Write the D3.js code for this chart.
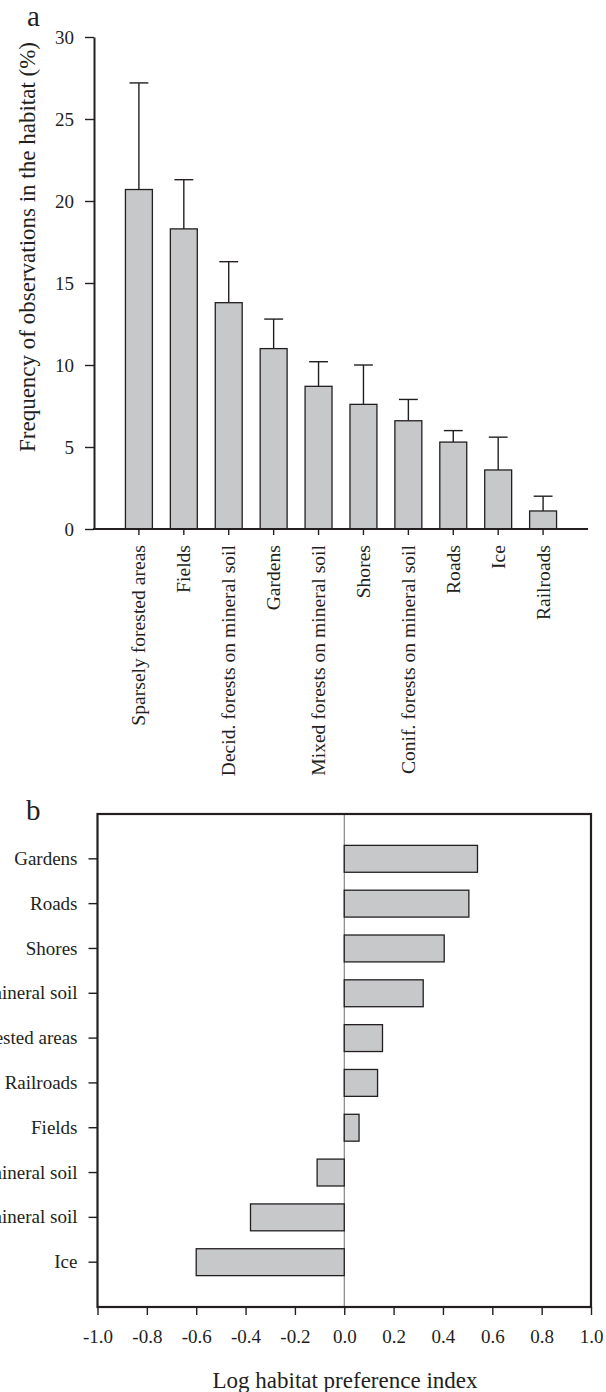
<!DOCTYPE html>
<html>
<head>
<meta charset="utf-8">
<script src="https://cdn.jsdelivr.net/npm/d3@7"></script>
<style>
body { margin: 0; background: #fff; overflow: hidden; }
text { font-family: "Liberation Serif", "Times New Roman", serif; fill: #231f20; }
</style>
</head>
<body>
<script>
// panel a: frequency of observations per habitat
const habitats = ["Sparsely forested areas", "Fields", "Decid. forests on mineral soil", "Gardens",
    "Mixed forests on mineral soil", "Shores", "Conif. forests on mineral soil", "Roads", "Ice", "Railroads"];
const frequency = [20.7, 18.3, 13.8, 11.0, 8.7, 7.6, 6.6, 5.3, 3.6, 1.1];
const frequencyUpper = [27.2, 21.3, 16.3, 12.8, 10.2, 10.0, 7.9, 6.0, 5.6, 2.0];
const yTicksA = [0, 5, 10, 15, 20, 25, 30];

// panel b: log habitat preference index
const prefHabitats = ["Gardens", "Roads", "Shores", "Decid. forests on mineral soil", "Sparsely forested areas",
    "Railroads", "Fields", "Mixed forests on mineral soil", "Conif. forests on mineral soil", "Ice"];
const prefIndex = [0.54, 0.505, 0.405, 0.32, 0.155, 0.135, 0.06, -0.11, -0.38, -0.60];
const xTicksB = [-1.0, -0.8, -0.6, -0.4, -0.2, 0.0, 0.2, 0.4, 0.6, 0.8, 1.0];

const ink = "#231f20";
const barFill = "#c7c8ca";

const svg = d3.select("body").append("svg")
    .attr("width", 606)
    .attr("height", 1392);

function styleAxis(g, size) {
    g.selectAll("path.domain").attr("stroke", ink).attr("stroke-width", 2);
    g.selectAll(".tick line").attr("stroke", ink).attr("stroke-width", 1.4);
    g.selectAll("text").style("font-size", size + "px").attr("fill", ink)
        .style("font-family", '"Liberation Serif", "Times New Roman", serif');
}

// ---------- panel a ----------
const xA = d3.scaleBand().domain(habitats).range([94, 588]).paddingInner(0.4).paddingOuter(0.7);
const yA = d3.scaleLinear().domain([0, 30]).range([529, 37]);

const gA = svg.append("g").attr("class", "panel-a");

gA.selectAll("rect.bar")
    .data(habitats)
    .enter().append("rect")
    .attr("class", "bar")
    .attr("x", d => xA(d))
    .attr("y", (d, i) => yA(frequency[i]))
    .attr("width", xA.bandwidth())
    .attr("height", (d, i) => yA(0) - yA(frequency[i]))
    .attr("fill", barFill)
    .attr("stroke", ink)
    .attr("stroke-width", 1.3);

// error bars (upper only)
const capW = xA.bandwidth() * 0.7;
const err = gA.selectAll("g.err").data(habitats).enter().append("g").attr("class", "err");
err.append("line")
    .attr("x1", d => xA(d) + xA.bandwidth() / 2)
    .attr("x2", d => xA(d) + xA.bandwidth() / 2)
    .attr("y1", (d, i) => yA(frequency[i]))
    .attr("y2", (d, i) => yA(frequencyUpper[i]))
    .attr("stroke", ink).attr("stroke-width", 1.4);
err.append("line")
    .attr("x1", d => xA(d) + xA.bandwidth() / 2 - capW / 2)
    .attr("x2", d => xA(d) + xA.bandwidth() / 2 + capW / 2)
    .attr("y1", (d, i) => yA(frequencyUpper[i]))
    .attr("y2", (d, i) => yA(frequencyUpper[i]))
    .attr("stroke", ink).attr("stroke-width", 1.4);

const yAxisA = gA.append("g")
    .attr("transform", "translate(94,0)")
    .call(d3.axisLeft(yA).tickValues(yTicksA).tickSize(9).tickSizeOuter(0).tickPadding(11));
styleAxis(yAxisA, 19);

const xAxisA = gA.append("g")
    .attr("transform", "translate(0,529)")
    .call(d3.axisBottom(xA).tickSize(6).tickSizeOuter(0));
styleAxis(xAxisA, 19.6);
xAxisA.select("path.domain").attr("d", "M93,0H588");
xAxisA.selectAll(".tick text")
    .attr("transform", "rotate(-90)")
    .attr("x", -16)
    .attr("y", 0)
    .attr("dy", "0.33em")
    .style("text-anchor", "end");

gA.append("text")
    .attr("transform", "translate(35,247) rotate(-90)")
    .attr("text-anchor", "middle")
    .style("font-size", "23px")
    .text("Frequency of observations in the habitat (%)");

gA.append("text")
    .attr("x", 27).attr("y", 26)
    .style("font-size", "29px")
    .text("a");

// ---------- panel b ----------
const xB = d3.scaleLinear().domain([-1, 1]).range([97.5, 591]);
const yB = d3.scaleBand().domain(prefHabitats).range([814, 1307]).paddingInner(0.4).paddingOuter(0.7);

const gB = svg.append("g").attr("class", "panel-b");

gB.append("line")
    .attr("x1", xB(0)).attr("x2", xB(0))
    .attr("y1", 814).attr("y2", 1307)
    .attr("stroke", "#6d6e70").attr("stroke-width", 1);

gB.selectAll("rect.bar")
    .data(prefHabitats)
    .enter().append("rect")
    .attr("class", "bar")
    .attr("x", (d, i) => xB(Math.min(0, prefIndex[i])))
    .attr("y", d => yB(d))
    .attr("width", (d, i) => Math.abs(xB(prefIndex[i]) - xB(0)))
    .attr("height", yB.bandwidth())
    .attr("fill", barFill)
    .attr("stroke", ink)
    .attr("stroke-width", 1.3);

gB.append("rect")
    .attr("x", xB(-1)).attr("y", 814)
    .attr("width", xB(1) - xB(-1)).attr("height", 1307 - 814)
    .attr("fill", "none").attr("stroke", ink).attr("stroke-width", 2.2);

const yAxisB = gB.append("g")
    .attr("transform", "translate(" + xB(-1) + ",0)")
    .call(d3.axisLeft(yB).tickSize(9).tickSizeOuter(0).tickPadding(11));
styleAxis(yAxisB, 19);
yAxisB.select("path.domain").remove();

const xAxisB = gB.append("g")
    .attr("transform", "translate(0,1307)")
    .call(d3.axisBottom(xB).tickValues(xTicksB).tickFormat(d => d.toFixed(1)).tickSize(8).tickSizeOuter(0).tickPadding(15));
styleAxis(xAxisB, 19);
xAxisB.select("path.domain").remove();

gB.append("text")
    .attr("x", 345).attr("y", 1388)
    .attr("text-anchor", "middle")
    .style("font-size", "23px")
    .text("Log habitat preference index");

gB.append("text")
    .attr("x", 26).attr("y", 820)
    .style("font-size", "29px")
    .text("b");
</script>
</body>
</html>
